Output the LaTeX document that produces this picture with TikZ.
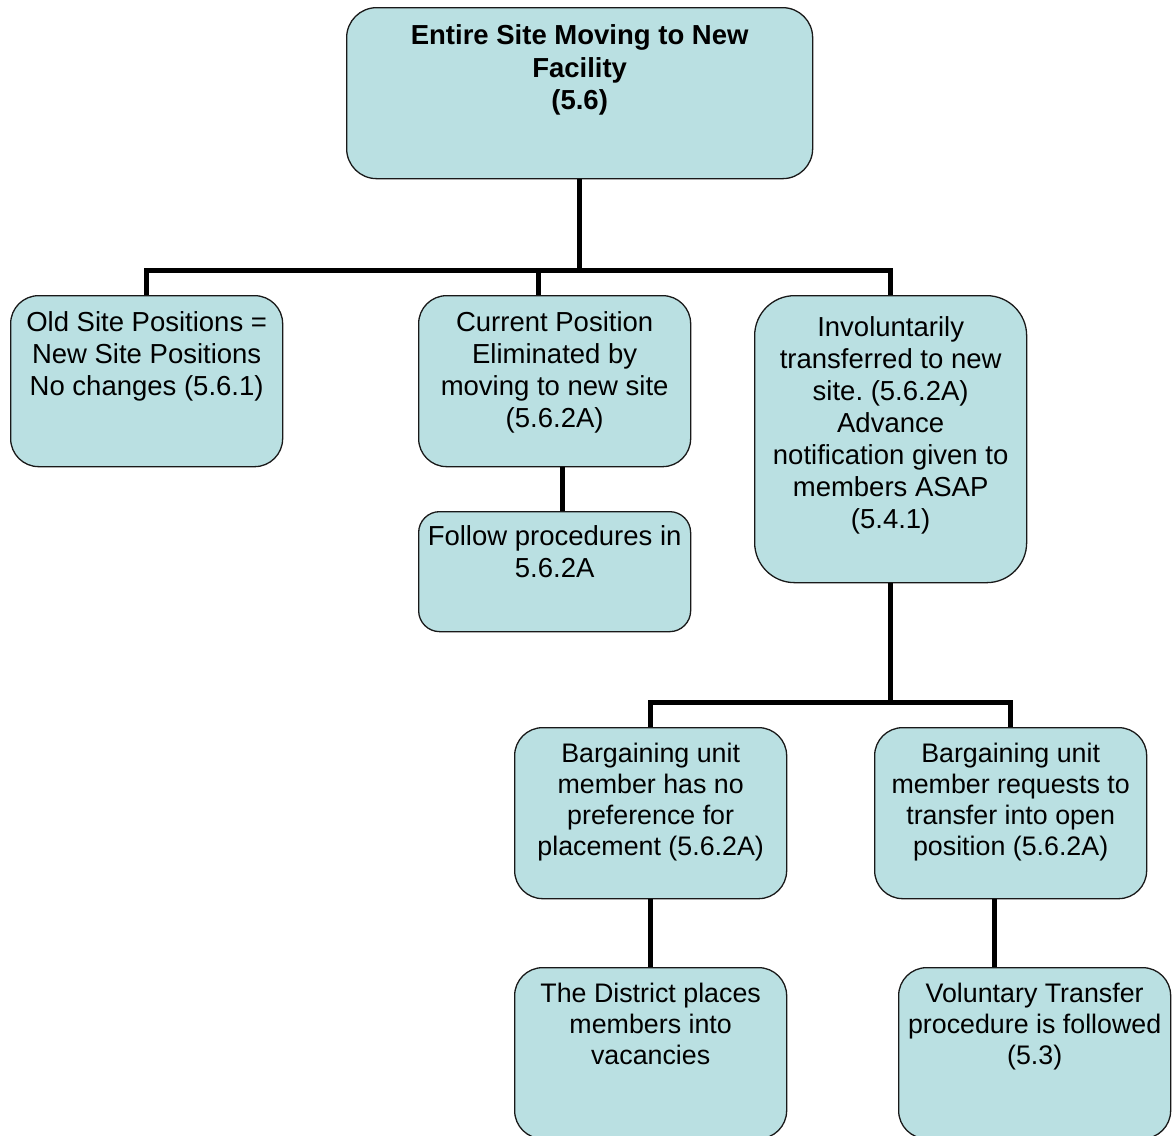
\documentclass[tikz,border=0pt]{standalone}
\usepackage{fontspec}
\setmainfont{Liberation Sans}
\frenchspacing
\definecolor{boxfill}{RGB}{186,224,226}
% #1 width, #2 height, #3 first baseline offset, #4 text
\newcommand\bxt[4]{\parbox[c][#2pt][t]{#1pt}{\centering\vspace*{\dimexpr#3pt-0.7\baselineskip\relax}\strut#4\par}}
\begin{document}
\begin{tikzpicture}[x=1pt,y=-1pt,
  box/.style={draw=black!90, line width=1.3pt, fill=boxfill, rounded corners=28pt,
    inner sep=0pt, anchor=north west, font=\fontsize{27.5}{32}\selectfont},
  lowbox/.style={box, font=\fontsize{26.8}{31}\selectfont},
  conn/.style={line width=5pt, draw=black, line join=miter}]
\useasboundingbox (0,0) rectangle (1175,1135);

\node[box, rounded corners=30pt, font=\fontsize{27.5}{32.5}\selectfont\bfseries] (top) at (346,7)
  {\bxt{466}{171}{37}{Entire Site Moving to New\\Facility\\(5.6)}};
\node[box] (l1) at (10,295)
  {\bxt{272}{171}{36}{Old Site Positions =\\New Site Positions\\No changes (5.6.1)}};
\node[box] (m1) at (418,295)
  {\bxt{272}{171}{36}{Current Position\\Eliminated by\\moving to new site\\(5.6.2A)}};
\node[box, rounded corners=40pt] (r1) at (754,295)
  {\bxt{272}{287}{41}{Involuntarily\\transferred to new\\site. (5.6.2A)\\Advance\\notification given to\\members ASAP\\(5.4.1)}};
\node[box, rounded corners=21pt] (m2) at (418,511)
  {\bxt{272}{120}{34}{Follow procedures in\\5.6.2A}};
\node[lowbox] (b1) at (514,727)
  {\bxt{272}{171}{35}{Bargaining unit\\member has no\\preference for\\placement (5.6.2A)}};
\node[lowbox] (b2) at (874,727)
  {\bxt{272}{171}{35}{Bargaining unit\\member requests to\\transfer into open\\position (5.6.2A)}};
\node[lowbox] (c1) at (514,967)
  {\bxt{272}{171}{35}{The District places\\members into\\vacancies}};
\node[lowbox] (c2) at (898,967)
  {\bxt{272}{171}{35}{Voluntary Transfer\\procedure is followed\\(5.3)}};

\coordinate (bar1) at (579,270);
\coordinate (bar2) at (890,702);

\draw[conn] (top.south) -- (top.south |- bar1);
\draw[conn] (l1.north) |- (r1.north |- bar1) -- (r1.north);
\draw[conn] ([xshift=-16pt]m1.north) -- ([xshift=-16pt]m1.north |- bar1);
\draw[conn] ([xshift=8pt]m1.south) -- ([xshift=8pt]m1.south |- m2.north);
\draw[conn] (r1.south) -- (r1.south |- bar2);
\draw[conn] (b1.north) |- (b2.north |- bar2) -- (b2.north);
\draw[conn] (b1.south) -- (c1.north);
\draw[conn] ([xshift=-16pt]b2.south) -- ([xshift=-16pt]b2.south |- c2.north);
\end{tikzpicture}
\end{document}
